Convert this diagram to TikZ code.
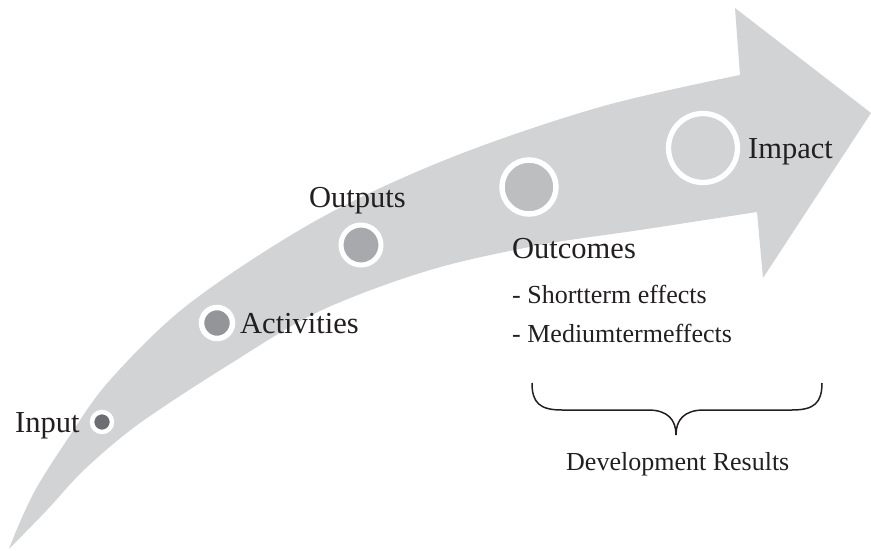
\documentclass[tikz,border=0pt]{standalone}
\usepackage{fontspec}
\setmainfont{Liberation Serif}
\definecolor{shaft}{HTML}{D1D3D4}
\definecolor{inkc}{HTML}{231F20}
\definecolor{stageA}{HTML}{6D6E71}
\definecolor{stageB}{HTML}{939598}
\definecolor{stageC}{HTML}{A7A9AC}
\definecolor{stageD}{HTML}{BCBEC0}
\begin{document}
\begin{tikzpicture}[x=1pt,y=-1pt,
  stagedot/.style={circle, draw=white, line width=5pt, inner sep=0pt},
  biglabel/.style={anchor=base west, inner sep=0pt, text=inkc, font=\fontsize{30.5}{32}\selectfont},
  smalllabel/.style={anchor=base west, inner sep=0pt, text=inkc, font=\fontsize{26}{28}\selectfont}]
\useasboundingbox (0,0) rectangle (871,551);

% curved arrow body with its head
\fill[shaft]
  plot[smooth, tension=0.55] coordinates {(9,549) (20,522) (37,487) (67,440) (110,380) (190,303) (317,220) (450,158) (600,107) (740,75)}
  -- (735,8) -- (871,113) -- (763,278) -- (757,212)
  -- plot[smooth, tension=0.55] coordinates {(757,212) (640,230) (540,245) (430,270) (320,311) (230,364) (140,423) (85,469) (47,510) (9,549)}
  -- cycle;

% stage markers along the arrow
\node[stagedot, fill=stageA, line width=4.5pt, minimum size=20pt] (dIn) at (102,422) {};
\node[stagedot, fill=stageB, line width=5.5pt, minimum size=31pt] (dAct) at (217,323) {};
\node[stagedot, fill=stageC, minimum size=40pt] (dOut) at (361,245) {};
\node[stagedot, fill=stageD, line width=5.5pt, minimum size=54pt] (dOc) at (529,187) {};
\node[stagedot, fill=shaft, line width=5.3pt, minimum size=69pt] (dImp) at (703,148) {};

% stage labels
\node[biglabel] (tIn) at (15,432) {Input};
\node[biglabel] (tAct) at (240,333) {Activities};
\node[biglabel] (tOut) at (309,207) {Outputs};
\node[biglabel] (tOc) at (512,258) {Outcomes};
\node[smalllabel] (tShort) at (512,303) {- Shortterm effects};
\node[smalllabel] (tMed) at (512,342) {- Mediumtermeffects};
\node[biglabel] (tImp) at (748,158) {Impact};

% brace grouping the development results
\coordinate (bL) at (532,383);
\coordinate (bM) at (676,435);
\coordinate (bR) at (822,383);
\draw[inkc, line width=1.5pt]
  (bL) .. controls (532,403) and (540,410) .. (562,410) -- (648,410)
  .. controls (668,410) and (676,420) .. (bM)
  .. controls (676,420) and (684,410) .. (704,410) -- (792,410)
  .. controls (814,410) and (822,403) .. (bR);
\node[smalllabel] (tDev) at (566,470) {Development Results};
\end{tikzpicture}
\end{document}
